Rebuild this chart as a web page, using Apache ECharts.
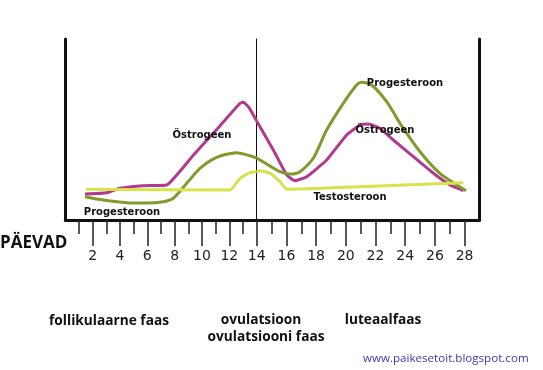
<!DOCTYPE html>
<html>
<head>
<meta charset="utf-8">
<script src="https://cdn.jsdelivr.net/npm/echarts@6/dist/echarts.min.js"></script>
<style>html,body{margin:0;padding:0;background:#fff}#c{width:543px;height:370px}</style>
</head>
<body>
<div id="c"></div>
<script>
// Days of the cycle (x) and relative hormone level (y)
const estrogen = [[1.44,26],[3.03,27.3],[4.0,31.7],[5.7,34.3],[7.42,35],[9.36,64.7],[11.31,94.1],[12.78,116.7],[13.02,117.7],[13.39,113.3],[14,99],[15.12,70],[16.02,45],[16.58,39.3],[17.37,43.3],[18.71,60],[20.06,85],[20.96,95],[21.52,96],[22.3,91.7],[23.2,80],[24.55,63.3],[25.9,46.7],[27.02,35],[27.92,29.3]];
const progesterone = [[1.44,23.3],[2.78,20],[4.49,17.3],[5.95,17],[7.17,18.3],[7.9,21.7],[8.88,36.7],[9.85,51.7],[11.07,62.7],[12.53,67.3],[13.75,63.3],[14,62],[14.67,56],[15.57,48.3],[16.24,46],[16.92,48.3],[17.81,61.7],[18.71,90],[19.83,116.7],[20.73,135],[21.07,137.7],[21.74,135],[22.75,118.3],[23.65,96.7],[25.0,68.3],[26.34,46.7],[28.1,29.3]];
const testosterone = [[1.51,30.7],[12.05,30],[12.78,41.7],[13.51,47.3],[14,48.5],[14.22,49.3],[14.9,46.7],[15.57,38.3],[16.02,30.7],[20.96,33.3],[27.91,37.3]];

const evenDaysL = [2,4,6,8,10,12,14];
const oddDaysL = [1,3,5,7,9,11,13];
const evenDaysR = [16,18,20,22,24,26,28];
const oddDaysR = [15,17,19,21,23,25,27];
const ovulationDay = 14;

const hormones = [
  {name:'Östrogeen', data: estrogen, color:'#b13a8c', smooth:0.12},
  {name:'Progesteroon', data: progesterone, color:'#7e9b2c', smooth:0.25},
  {name:'Testosteroon', data: testosterone, color:'#d8e24c', smooth:0.12}
];

const curveLabels = [
  {text:'Östrogeen', x:202, y:135},
  {text:'Progesteroon', x:122, y:212},
  {text:'Progesteroon', x:405, y:83},
  {text:'Östrogeen', x:385, y:130},
  {text:'Testosteroon', x:350, y:197}
];
const phaseLabels = [
  {text:'follikulaarne faas', x:109, y:321},
  {text:'ovulatsioon', x:261, y:320},
  {text:'ovulatsiooni faas', x:266, y:337},
  {text:'luteaalfaas', x:383, y:320}
];

const chart = echarts.init(document.getElementById('c'), null, {renderer:'canvas'});
const FONT = 'DejaVu Sans';
function longAxis(grid, min, max, vals){
  return {type:'value', gridIndex:grid, min:min, max:max, position:'bottom',
    axisLine:{show:true, onZero:false, lineStyle:{color:'#111', width:3}},
    axisTick:{show:true, customValues:vals, length:26, lineStyle:{color:'#222', width:1.5}},
    axisLabel:{show:true, customValues:vals, margin:29, fontFamily:FONT, fontSize:14, color:'#222', hideOverlap:false, showMinLabel:true, showMaxLabel:true},
    splitLine:{show:false}};
}
function shortAxis(grid, min, max, vals){
  return {type:'value', gridIndex:grid, min:min, max:max, position:'bottom',
    axisLine:{show:false, onZero:false},
    axisTick:{show:true, customValues:vals, length:14, lineStyle:{color:'#222', width:1.5}},
    axisLabel:{show:false}, splitLine:{show:false}};
}
function yAx(grid, pos, w){
  return {type:'value', gridIndex:grid, min:0, max:181, position:pos,
    axisLine:{show:true, lineStyle:{color:'#111', width:w}},
    axisTick:{show:false}, axisLabel:{show:false}, splitLine:{show:false}};
}

const series = [];
hormones.forEach(h => {
  series.push({type:'line', name:h.name, xAxisIndex:0, yAxisIndex:0, symbol:'none', smooth:h.smooth,
    lineStyle:{color:h.color, width:3}, data:h.data.filter(p => p[0] <= ovulationDay)});
  series.push({type:'line', name:h.name, xAxisIndex:2, yAxisIndex:1, symbol:'none', smooth:h.smooth,
    lineStyle:{color:h.color, width:3}, data:h.data.filter(p => p[0] >= ovulationDay)});
});

const graphic = [];
curveLabels.forEach(l => graphic.push({type:'text', x:l.x, y:l.y, z:10,
  style:{text:l.text, fill:'#111', font:'bold 10px "DejaVu Sans"', textAlign:'center', textVerticalAlign:'middle'}}));
phaseLabels.forEach(l => graphic.push({type:'text', x:l.x, y:l.y, z:10,
  style:{text:l.text, fill:'#111', font:'bold 13.7px "Open Sans"', textAlign:'center', textVerticalAlign:'middle'}}));
graphic.push({type:'text', x:0, y:243, style:{text:'PÄEVAD', fill:'#111', font:'bold 17px "Open Sans"', textAlign:'left', textVerticalAlign:'middle'}});
graphic.push({type:'text', x:363, y:359, style:{text:'www.paikesetoit.blogspot.com', fill:'#3a3ab5', font:'11.6px "Open Sans"', textAlign:'left', textVerticalAlign:'middle'}});

chart.setOption({
  animation:false,
  backgroundColor:'#fff',
  grid:[
    {left:65.3, top:39, width:191.4, height:181},
    {left:256.7, top:39, width:222.75, height:181}
  ],
  xAxis:[
    longAxis(0, 0, 14, evenDaysL),
    shortAxis(0, 0, 14, oddDaysL),
    longAxis(1, 14, 29, evenDaysR),
    shortAxis(1, 14, 29, oddDaysR)
  ],
  yAxis:[ yAx(0,'left',3), yAx(1,'left',1), yAx(1,'right',3) ],
  series: series,
  graphic: graphic
});
</script>
</body>
</html>
